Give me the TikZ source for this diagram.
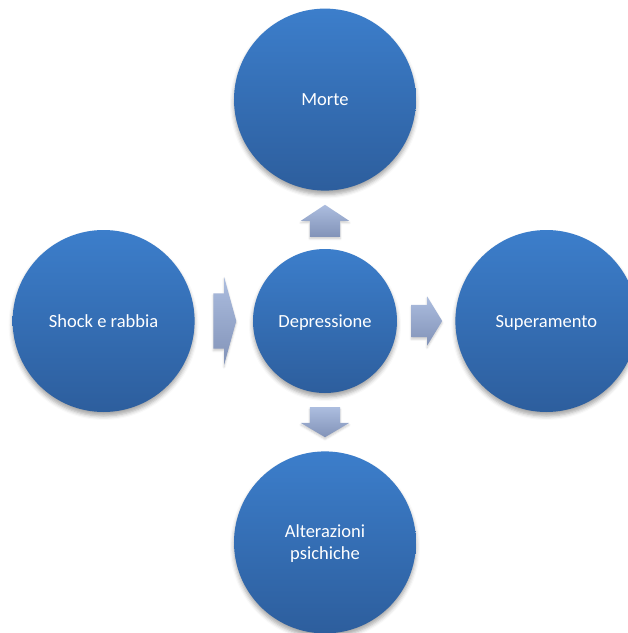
\documentclass[tikz,border=0pt]{standalone}
\usepackage{fontspec}
\setmainfont{Carlito}
\usetikzlibrary{positioning, shapes.arrows, shadows.blur, calc}

\definecolor{discTop}{RGB}{60,126,203}
\definecolor{discBottom}{RGB}{45,94,157}
\definecolor{flowTop}{RGB}{172,189,223}
\definecolor{flowBottom}{RGB}{130,147,184}

\begin{document}
\begin{tikzpicture}[node distance=58pt,
    phase/.style={circle, minimum size=182pt, inner sep=0pt, align=center,
        top color=discTop, bottom color=discBottom, text=white, text depth=0pt,
        font=\fontsize{18.5}{22}\selectfont,
        blur shadow={shadow xshift=0pt, shadow yshift=-4pt, shadow blur radius=4pt, shadow opacity=35}},
    flow/.style={single arrow, outer sep=0pt, anchor=tail,
        top color=flowTop, bottom color=flowBottom,
        blur shadow={shadow xshift=0pt, shadow yshift=-2pt, shadow blur radius=2pt, shadow opacity=20}}]

    % page frame
    \useasboundingbox (-325pt,-312pt) rectangle (303pt,321pt);

    % Stages
    \node[phase, minimum size=144pt] (dep) at (0,0) {Depressione};
    \node[phase, above=of dep] (morte) {Morte};
    \node[phase, left=of dep] (shock) {Shock e rabbia};
    \node[phase, right=of dep] (super) {Superamento};
    \node[phase, below=of dep] (alter) {Alterazioni\\psichiche};

    % Block arrows between the stages (the inner sep across the arrow is half the shaft)
    \node[flow, shape border rotate=90, minimum height=32pt, inner xsep=15pt, inner ysep=0pt,
        single arrow head extend=9pt, single arrow tip angle=113]
        (toMorte) at ($(dep.north)+(0,12pt)$) {};
    \node[flow, minimum height=23pt, inner xsep=0pt, inner ysep=27.5pt,
        single arrow head extend=16.5pt, single arrow tip angle=149]
        (fromShock) at ($(shock.east)+(18.5pt,0)$) {};
    \node[flow, minimum height=31pt, inner xsep=0pt, inner ysep=16pt,
        single arrow head extend=8.5pt, single arrow tip angle=117]
        (toSuper) at ($(dep.east)+(14pt,0)$) {};
    \node[flow, shape border rotate=270, minimum height=30pt, inner xsep=15pt, inner ysep=0pt,
        single arrow head extend=9pt, single arrow tip angle=119]
        (toAlter) at ($(dep.south)+(0,-14pt)$) {};
\end{tikzpicture}
\end{document}
